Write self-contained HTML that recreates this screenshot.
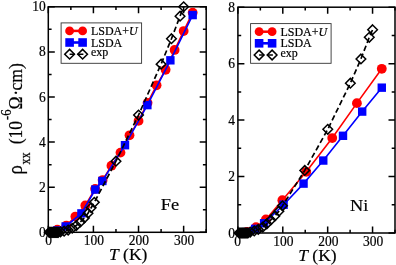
<!DOCTYPE html>
<html><head><meta charset="utf-8"><style>
html,body{margin:0;padding:0;background:#fff;overflow:hidden;}
svg{will-change:transform;display:block;position:absolute;left:0;top:0;font-family:"Liberation Serif",serif;}
text{filter:grayscale(1);stroke:#000;stroke-width:0.2px;}
</style></head><body>
<svg width="396" height="265" viewBox="0 0 396 265">
<rect width="396" height="265" fill="#fff"/>
<rect x="48.3" y="6.8" width="157.89999999999998" height="225.5" fill="none" stroke="#000" stroke-width="1.5"/>
<path d="M48.30 232.3v-6.5M48.30 6.8v6.5M70.86 232.3v-3.3M70.86 6.8v3.3M93.41 232.3v-6.5M93.41 6.8v6.5M115.97 232.3v-3.3M115.97 6.8v3.3M138.53 232.3v-6.5M138.53 6.8v6.5M161.09 232.3v-3.3M161.09 6.8v3.3M183.64 232.3v-6.5M183.64 6.8v6.5M206.20 232.3v-3.3M206.20 6.8v3.3M48.3 232.30h6.5M206.2 232.30h-6.5M48.3 187.20h6.5M206.2 187.20h-6.5M48.3 142.10h6.5M206.2 142.10h-6.5M48.3 97.00h6.5M206.2 97.00h-6.5M48.3 51.90h6.5M206.2 51.90h-6.5M48.3 6.80h6.5M206.2 6.80h-6.5M48.3 209.75h3.3M206.2 209.75h-3.3M48.3 164.65h3.3M206.2 164.65h-3.3M48.3 119.55h3.3M206.2 119.55h-3.3M48.3 74.45h3.3M206.2 74.45h-3.3M48.3 29.35h3.3M206.2 29.35h-3.3" stroke="#000" stroke-width="1.5" fill="none"/>
<rect x="237.9" y="7.2" width="157.1" height="225.8" fill="none" stroke="#000" stroke-width="1.5"/>
<path d="M237.90 233.0v-6.5M237.90 7.2v6.5M260.34 233.0v-3.3M260.34 7.2v3.3M282.79 233.0v-6.5M282.79 7.2v6.5M305.23 233.0v-3.3M305.23 7.2v3.3M327.67 233.0v-6.5M327.67 7.2v6.5M350.11 233.0v-3.3M350.11 7.2v3.3M372.56 233.0v-6.5M372.56 7.2v6.5M395.00 233.0v-3.3M395.00 7.2v3.3M237.9 233.00h6.5M395.0 233.00h-6.5M237.9 176.55h6.5M395.0 176.55h-6.5M237.9 120.10h6.5M395.0 120.10h-6.5M237.9 63.65h6.5M395.0 63.65h-6.5M237.9 7.20h6.5M395.0 7.20h-6.5M237.9 204.78h3.3M395.0 204.78h-3.3M237.9 148.32h3.3M395.0 148.32h-3.3M237.9 91.88h3.3M395.0 91.88h-3.3M237.9 35.42h3.3M395.0 35.42h-3.3" stroke="#000" stroke-width="1.5" fill="none"/>
<path d="M57.32 229.60L66.35 225.55L75.37 216.54L85.29 205.51L95.13 188.86L102.62 180.08L111.46 165.67L120.48 152.61L129.51 135.28L138.53 120.88L147.55 102.87L156.57 85.31L165.60 69.78L174.62 49.97L183.64 31.06L192.67 12.60" stroke="#f00" stroke-width="1.6" fill="none"/>
<circle cx="57.32" cy="229.60" r="4.9" fill="#f00"/>
<circle cx="66.35" cy="225.55" r="4.9" fill="#f00"/>
<circle cx="75.37" cy="216.54" r="4.9" fill="#f00"/>
<circle cx="85.29" cy="205.51" r="4.9" fill="#f00"/>
<circle cx="95.13" cy="188.86" r="4.9" fill="#f00"/>
<circle cx="102.62" cy="180.08" r="4.9" fill="#f00"/>
<circle cx="111.46" cy="165.67" r="4.9" fill="#f00"/>
<circle cx="120.48" cy="152.61" r="4.9" fill="#f00"/>
<circle cx="129.51" cy="135.28" r="4.9" fill="#f00"/>
<circle cx="138.53" cy="120.88" r="4.9" fill="#f00"/>
<circle cx="147.55" cy="102.87" r="4.9" fill="#f00"/>
<circle cx="156.57" cy="85.31" r="4.9" fill="#f00"/>
<circle cx="165.60" cy="69.78" r="4.9" fill="#f00"/>
<circle cx="174.62" cy="49.97" r="4.9" fill="#f00"/>
<circle cx="183.64" cy="31.06" r="4.9" fill="#f00"/>
<circle cx="192.67" cy="12.60" r="4.9" fill="#f00"/>
<path d="M57.32 230.50L65.67 226.45L81.41 213.39L95.31 189.53L102.35 180.98L124.99 145.19L147.37 105.12L170.38 60.32L192.67 15.08" stroke="#00f" stroke-width="1.6" fill="none"/>
<rect x="53.12" y="226.30" width="8.4" height="8.4" fill="#00f"/>
<rect x="61.47" y="222.25" width="8.4" height="8.4" fill="#00f"/>
<rect x="77.21" y="209.19" width="8.4" height="8.4" fill="#00f"/>
<rect x="91.11" y="185.33" width="8.4" height="8.4" fill="#00f"/>
<rect x="98.15" y="176.78" width="8.4" height="8.4" fill="#00f"/>
<rect x="120.79" y="140.99" width="8.4" height="8.4" fill="#00f"/>
<rect x="143.17" y="100.92" width="8.4" height="8.4" fill="#00f"/>
<rect x="166.18" y="56.12" width="8.4" height="8.4" fill="#00f"/>
<rect x="188.47" y="10.88" width="8.4" height="8.4" fill="#00f"/>
<path d="M49.20 232.30L50.10 232.30L51.01 232.30L51.91 232.30L52.81 232.30L53.71 232.30L54.62 232.30L55.52 232.30L56.42 232.30L57.32 232.30L58.23 232.30L60.48 231.85L64.09 231.17L68.15 230.05L72.21 228.25L76.27 225.55L80.33 221.95L84.39 217.89L88.00 213.17L91.16 207.76L94.32 202.36L115.97 161.17L138.53 115.02L161.09 64.15L171.46 38.71L180.03 16.20L183.64 6.75" stroke="#000" stroke-width="1.7" stroke-dasharray="5.5 3" fill="none"/>
<path d="M49.20 227.50L54.00 232.30L49.20 237.10L44.40 232.30Z" fill="none" stroke="#000" stroke-width="1.5"/>
<path d="M50.10 227.50L54.90 232.30L50.10 237.10L45.30 232.30Z" fill="none" stroke="#000" stroke-width="1.5"/>
<path d="M51.01 227.50L55.81 232.30L51.01 237.10L46.21 232.30Z" fill="none" stroke="#000" stroke-width="1.5"/>
<path d="M51.91 227.50L56.71 232.30L51.91 237.10L47.11 232.30Z" fill="none" stroke="#000" stroke-width="1.5"/>
<path d="M52.81 227.50L57.61 232.30L52.81 237.10L48.01 232.30Z" fill="none" stroke="#000" stroke-width="1.5"/>
<path d="M53.71 227.50L58.51 232.30L53.71 237.10L48.91 232.30Z" fill="none" stroke="#000" stroke-width="1.5"/>
<path d="M54.62 227.50L59.42 232.30L54.62 237.10L49.82 232.30Z" fill="none" stroke="#000" stroke-width="1.5"/>
<path d="M55.52 227.50L60.32 232.30L55.52 237.10L50.72 232.30Z" fill="none" stroke="#000" stroke-width="1.5"/>
<path d="M56.42 227.50L61.22 232.30L56.42 237.10L51.62 232.30Z" fill="none" stroke="#000" stroke-width="1.5"/>
<path d="M57.32 227.50L62.12 232.30L57.32 237.10L52.52 232.30Z" fill="none" stroke="#000" stroke-width="1.5"/>
<path d="M58.23 227.50L63.03 232.30L58.23 237.10L53.43 232.30Z" fill="none" stroke="#000" stroke-width="1.5"/>
<path d="M60.48 227.05L65.28 231.85L60.48 236.65L55.68 231.85Z" fill="none" stroke="#000" stroke-width="1.5"/>
<path d="M64.09 226.37L68.89 231.17L64.09 235.97L59.29 231.17Z" fill="none" stroke="#000" stroke-width="1.5"/>
<path d="M68.15 225.25L72.95 230.05L68.15 234.85L63.35 230.05Z" fill="none" stroke="#000" stroke-width="1.5"/>
<path d="M72.21 223.45L77.01 228.25L72.21 233.05L67.41 228.25Z" fill="none" stroke="#000" stroke-width="1.5"/>
<path d="M76.27 220.75L81.07 225.55L76.27 230.35L71.47 225.55Z" fill="none" stroke="#000" stroke-width="1.5"/>
<path d="M80.33 217.15L85.13 221.95L80.33 226.75L75.53 221.95Z" fill="none" stroke="#000" stroke-width="1.5"/>
<path d="M84.39 213.09L89.19 217.89L84.39 222.69L79.59 217.89Z" fill="none" stroke="#000" stroke-width="1.5"/>
<path d="M88.00 208.37L92.80 213.17L88.00 217.97L83.20 213.17Z" fill="none" stroke="#000" stroke-width="1.5"/>
<path d="M91.16 202.96L95.96 207.76L91.16 212.56L86.36 207.76Z" fill="none" stroke="#000" stroke-width="1.5"/>
<path d="M94.32 197.56L99.12 202.36L94.32 207.16L89.52 202.36Z" fill="none" stroke="#000" stroke-width="1.5"/>
<path d="M115.97 156.37L120.77 161.17L115.97 165.97L111.17 161.17Z" fill="none" stroke="#000" stroke-width="1.5"/>
<path d="M138.53 110.22L143.33 115.02L138.53 119.82L133.73 115.02Z" fill="none" stroke="#000" stroke-width="1.5"/>
<path d="M161.09 59.35L165.89 64.15L161.09 68.95L156.29 64.15Z" fill="none" stroke="#000" stroke-width="1.5"/>
<path d="M171.46 33.91L176.26 38.71L171.46 43.51L166.66 38.71Z" fill="none" stroke="#000" stroke-width="1.5"/>
<path d="M180.03 11.40L184.83 16.20L180.03 21.00L175.23 16.20Z" fill="none" stroke="#000" stroke-width="1.5"/>
<path d="M183.64 1.95L188.44 6.75L183.64 11.55L178.84 6.75Z" fill="none" stroke="#000" stroke-width="1.5"/>
<path d="M247.07 231.82L256.03 227.09L265.89 219.41L282.35 200.22L306.24 171.80L332.24 138.04L356.90 103.15L381.78 68.82" stroke="#f00" stroke-width="1.6" fill="none"/>
<circle cx="247.07" cy="231.82" r="4.9" fill="#f00"/>
<circle cx="256.03" cy="227.09" r="4.9" fill="#f00"/>
<circle cx="265.89" cy="219.41" r="4.9" fill="#f00"/>
<circle cx="282.35" cy="200.22" r="4.9" fill="#f00"/>
<circle cx="306.24" cy="171.80" r="4.9" fill="#f00"/>
<circle cx="332.24" cy="138.04" r="4.9" fill="#f00"/>
<circle cx="356.90" cy="103.15" r="4.9" fill="#f00"/>
<circle cx="381.78" cy="68.82" r="4.9" fill="#f00"/>
<path d="M246.62 232.11L255.13 228.86L264.10 223.25L283.60 204.73L303.55 183.62L323.27 160.55L343.00 135.79L362.19 111.59L381.78 87.67" stroke="#00f" stroke-width="1.6" fill="none"/>
<rect x="242.42" y="227.91" width="8.4" height="8.4" fill="#00f"/>
<rect x="250.93" y="224.66" width="8.4" height="8.4" fill="#00f"/>
<rect x="259.90" y="219.05" width="8.4" height="8.4" fill="#00f"/>
<rect x="279.40" y="200.53" width="8.4" height="8.4" fill="#00f"/>
<rect x="299.35" y="179.42" width="8.4" height="8.4" fill="#00f"/>
<rect x="319.07" y="156.35" width="8.4" height="8.4" fill="#00f"/>
<rect x="338.80" y="131.59" width="8.4" height="8.4" fill="#00f"/>
<rect x="357.99" y="107.39" width="8.4" height="8.4" fill="#00f"/>
<rect x="377.58" y="83.47" width="8.4" height="8.4" fill="#00f"/>
<path d="M239.00 233.00L239.89 233.00L240.79 233.00L241.69 233.00L242.58 233.00L243.48 233.00L244.38 233.00L245.27 233.00L246.17 233.00L247.07 233.00L247.96 233.00L250.20 232.11L254.24 230.93L258.27 229.46L262.76 227.09L266.79 223.84L270.82 220.00L274.86 215.98L278.89 211.20L282.48 205.85L304.76 170.40L327.76 129.32L350.35 83.17L360.93 58.97L369.27 37.31L372.59 29.71" stroke="#000" stroke-width="1.7" stroke-dasharray="5.5 3" fill="none"/>
<path d="M239.00 228.20L243.80 233.00L239.00 237.80L234.20 233.00Z" fill="none" stroke="#000" stroke-width="1.5"/>
<path d="M239.89 228.20L244.69 233.00L239.89 237.80L235.09 233.00Z" fill="none" stroke="#000" stroke-width="1.5"/>
<path d="M240.79 228.20L245.59 233.00L240.79 237.80L235.99 233.00Z" fill="none" stroke="#000" stroke-width="1.5"/>
<path d="M241.69 228.20L246.49 233.00L241.69 237.80L236.89 233.00Z" fill="none" stroke="#000" stroke-width="1.5"/>
<path d="M242.58 228.20L247.38 233.00L242.58 237.80L237.78 233.00Z" fill="none" stroke="#000" stroke-width="1.5"/>
<path d="M243.48 228.20L248.28 233.00L243.48 237.80L238.68 233.00Z" fill="none" stroke="#000" stroke-width="1.5"/>
<path d="M244.38 228.20L249.18 233.00L244.38 237.80L239.58 233.00Z" fill="none" stroke="#000" stroke-width="1.5"/>
<path d="M245.27 228.20L250.07 233.00L245.27 237.80L240.47 233.00Z" fill="none" stroke="#000" stroke-width="1.5"/>
<path d="M246.17 228.20L250.97 233.00L246.17 237.80L241.37 233.00Z" fill="none" stroke="#000" stroke-width="1.5"/>
<path d="M247.07 228.20L251.87 233.00L247.07 237.80L242.27 233.00Z" fill="none" stroke="#000" stroke-width="1.5"/>
<path d="M247.96 228.20L252.76 233.00L247.96 237.80L243.16 233.00Z" fill="none" stroke="#000" stroke-width="1.5"/>
<path d="M250.20 227.31L255.00 232.11L250.20 236.91L245.40 232.11Z" fill="none" stroke="#000" stroke-width="1.5"/>
<path d="M254.24 226.13L259.04 230.93L254.24 235.73L249.44 230.93Z" fill="none" stroke="#000" stroke-width="1.5"/>
<path d="M258.27 224.66L263.07 229.46L258.27 234.26L253.47 229.46Z" fill="none" stroke="#000" stroke-width="1.5"/>
<path d="M262.76 222.29L267.56 227.09L262.76 231.89L257.96 227.09Z" fill="none" stroke="#000" stroke-width="1.5"/>
<path d="M266.79 219.04L271.59 223.84L266.79 228.64L261.99 223.84Z" fill="none" stroke="#000" stroke-width="1.5"/>
<path d="M270.82 215.20L275.62 220.00L270.82 224.80L266.02 220.00Z" fill="none" stroke="#000" stroke-width="1.5"/>
<path d="M274.86 211.18L279.66 215.98L274.86 220.78L270.06 215.98Z" fill="none" stroke="#000" stroke-width="1.5"/>
<path d="M278.89 206.40L283.69 211.20L278.89 216.00L274.09 211.20Z" fill="none" stroke="#000" stroke-width="1.5"/>
<path d="M282.48 201.05L287.28 205.85L282.48 210.65L277.68 205.85Z" fill="none" stroke="#000" stroke-width="1.5"/>
<path d="M304.76 165.60L309.56 170.40L304.76 175.20L299.96 170.40Z" fill="none" stroke="#000" stroke-width="1.5"/>
<path d="M327.76 124.52L332.56 129.32L327.76 134.12L322.96 129.32Z" fill="none" stroke="#000" stroke-width="1.5"/>
<path d="M350.35 78.37L355.15 83.17L350.35 87.97L345.55 83.17Z" fill="none" stroke="#000" stroke-width="1.5"/>
<path d="M360.93 54.17L365.73 58.97L360.93 63.77L356.13 58.97Z" fill="none" stroke="#000" stroke-width="1.5"/>
<path d="M369.27 32.51L374.07 37.31L369.27 42.11L364.47 37.31Z" fill="none" stroke="#000" stroke-width="1.5"/>
<path d="M372.59 24.91L377.39 29.71L372.59 34.51L367.79 29.71Z" fill="none" stroke="#000" stroke-width="1.5"/>
<rect x="61.1" y="22.900000000000002" width="80.5" height="40.4" fill="#fff" stroke="#333" stroke-width="0.9"/>
<path d="M69.6 30.900000000000002H82.6" stroke="#f00" stroke-width="2.5"/>
<circle cx="69.60" cy="30.90" r="4.4" fill="#f00"/>
<circle cx="82.60" cy="30.90" r="4.4" fill="#f00"/>
<path d="M69.6 42.5H82.6" stroke="#00f" stroke-width="2.6"/>
<rect x="65.30" y="38.20" width="8.6" height="8.6" fill="#00f"/>
<rect x="78.30" y="38.20" width="8.6" height="8.6" fill="#00f"/>
<path d="M69.6 54.2h5.2M77.39999999999999 54.2h6" stroke="#000" stroke-width="1.4"/>
<path d="M69.60 49.35L74.45 54.20L69.60 59.05L64.75 54.20Z" fill="none" stroke="#000" stroke-width="1.5"/>
<path d="M82.60 49.35L87.45 54.20L82.60 59.05L77.75 54.20Z" fill="none" stroke="#000" stroke-width="1.5"/>
<text transform="translate(90.90,34.80) scale(1,1.12)" font-size="12" text-anchor="start">LSDA+<tspan font-style="italic">U</tspan></text>
<text transform="translate(90.90,46.50) scale(1,1.12)" font-size="12" text-anchor="start">LSDA</text>
<text transform="translate(90.90,55.70) scale(1,1.08)" font-size="12" text-anchor="start">exp</text>
<rect x="250.6" y="23.599999999999998" width="80.5" height="39.7" fill="#fff" stroke="#333" stroke-width="0.9"/>
<path d="M259.1 31.7H272.1" stroke="#f00" stroke-width="2.5"/>
<circle cx="259.10" cy="31.70" r="4.4" fill="#f00"/>
<circle cx="272.10" cy="31.70" r="4.4" fill="#f00"/>
<path d="M259.1 43.3H272.1" stroke="#00f" stroke-width="2.6"/>
<rect x="254.80" y="39.00" width="8.6" height="8.6" fill="#00f"/>
<rect x="267.80" y="39.00" width="8.6" height="8.6" fill="#00f"/>
<path d="M259.1 55.0h5.2M266.90000000000003 55.0h6" stroke="#000" stroke-width="1.4"/>
<path d="M259.10 50.15L263.95 55.00L259.10 59.85L254.25 55.00Z" fill="none" stroke="#000" stroke-width="1.5"/>
<path d="M272.10 50.15L276.95 55.00L272.10 59.85L267.25 55.00Z" fill="none" stroke="#000" stroke-width="1.5"/>
<text transform="translate(280.40,35.60) scale(1,1.12)" font-size="12" text-anchor="start">LSDA+<tspan font-style="italic">U</tspan></text>
<text transform="translate(280.40,47.30) scale(1,1.12)" font-size="12" text-anchor="start">LSDA</text>
<text transform="translate(280.40,56.50) scale(1,1.08)" font-size="12" text-anchor="start">exp</text>
<text transform="translate(45.80,236.80) scale(1,1.04)" font-size="13.5" text-anchor="end">0</text>
<text transform="translate(45.80,191.70) scale(1,1.04)" font-size="13.5" text-anchor="end">2</text>
<text transform="translate(45.80,146.60) scale(1,1.04)" font-size="13.5" text-anchor="end">4</text>
<text transform="translate(45.80,101.50) scale(1,1.04)" font-size="13.5" text-anchor="end">6</text>
<text transform="translate(45.80,56.40) scale(1,1.04)" font-size="13.5" text-anchor="end">8</text>
<text transform="translate(45.80,11.30) scale(1,1.04)" font-size="13.5" text-anchor="end">10</text>
<text transform="translate(235.10,237.50) scale(1,1.04)" font-size="13.5" text-anchor="end">0</text>
<text transform="translate(235.10,181.05) scale(1,1.04)" font-size="13.5" text-anchor="end">2</text>
<text transform="translate(235.10,124.60) scale(1,1.04)" font-size="13.5" text-anchor="end">4</text>
<text transform="translate(235.10,68.15) scale(1,1.04)" font-size="13.5" text-anchor="end">6</text>
<text transform="translate(235.10,11.70) scale(1,1.04)" font-size="13.5" text-anchor="end">8</text>
<text transform="translate(48.70,244.80) scale(1,1.12)" font-size="13.5" text-anchor="middle">0</text>
<text transform="translate(237.70,245.50) scale(1,1.12)" font-size="13.5" text-anchor="middle">0</text>
<text transform="translate(93.81,244.80) scale(1,1.12)" font-size="13.5" text-anchor="middle">100</text>
<text transform="translate(283.39,245.50) scale(1,1.12)" font-size="13.5" text-anchor="middle">100</text>
<text transform="translate(138.93,244.80) scale(1,1.12)" font-size="13.5" text-anchor="middle">200</text>
<text transform="translate(328.27,245.50) scale(1,1.12)" font-size="13.5" text-anchor="middle">200</text>
<text transform="translate(184.04,244.80) scale(1,1.12)" font-size="13.5" text-anchor="middle">300</text>
<text transform="translate(373.16,245.50) scale(1,1.12)" font-size="13.5" text-anchor="middle">300</text>
<text transform="translate(128.20,259.90) scale(1,0.99)" font-size="17.5" text-anchor="middle"><tspan font-style="italic">T</tspan> (K)</text>
<text transform="translate(317.40,260.60) scale(1,0.99)" font-size="17.5" text-anchor="middle"><tspan font-style="italic">T</tspan> (K)</text>
<text transform="translate(160.80,209.50) scale(1,0.9)" font-size="18.4" text-anchor="start">Fe</text>
<text transform="translate(350.00,210.50) scale(1,0.95)" font-size="18.3" text-anchor="start">Ni</text>
<g transform="translate(21.7,175.2) rotate(-90) scale(1,1.13)"><text x="0.6" y="0.00" font-size="18.8">ρ</text><text x="10.6" y="7.08" font-size="12.3">xx</text><text x="30.9" y="0.00" font-size="17.6">(10</text><text x="55.3" y="-9.20" font-size="12.6">-6</text><text x="65.7" y="0.00" font-size="17.6">Ω</text><text x="79.4" y="0.00" font-size="17.6">·</text><text x="84.6" y="0.00" font-size="17.6">cm)</text></g>
</svg>
</body></html>
